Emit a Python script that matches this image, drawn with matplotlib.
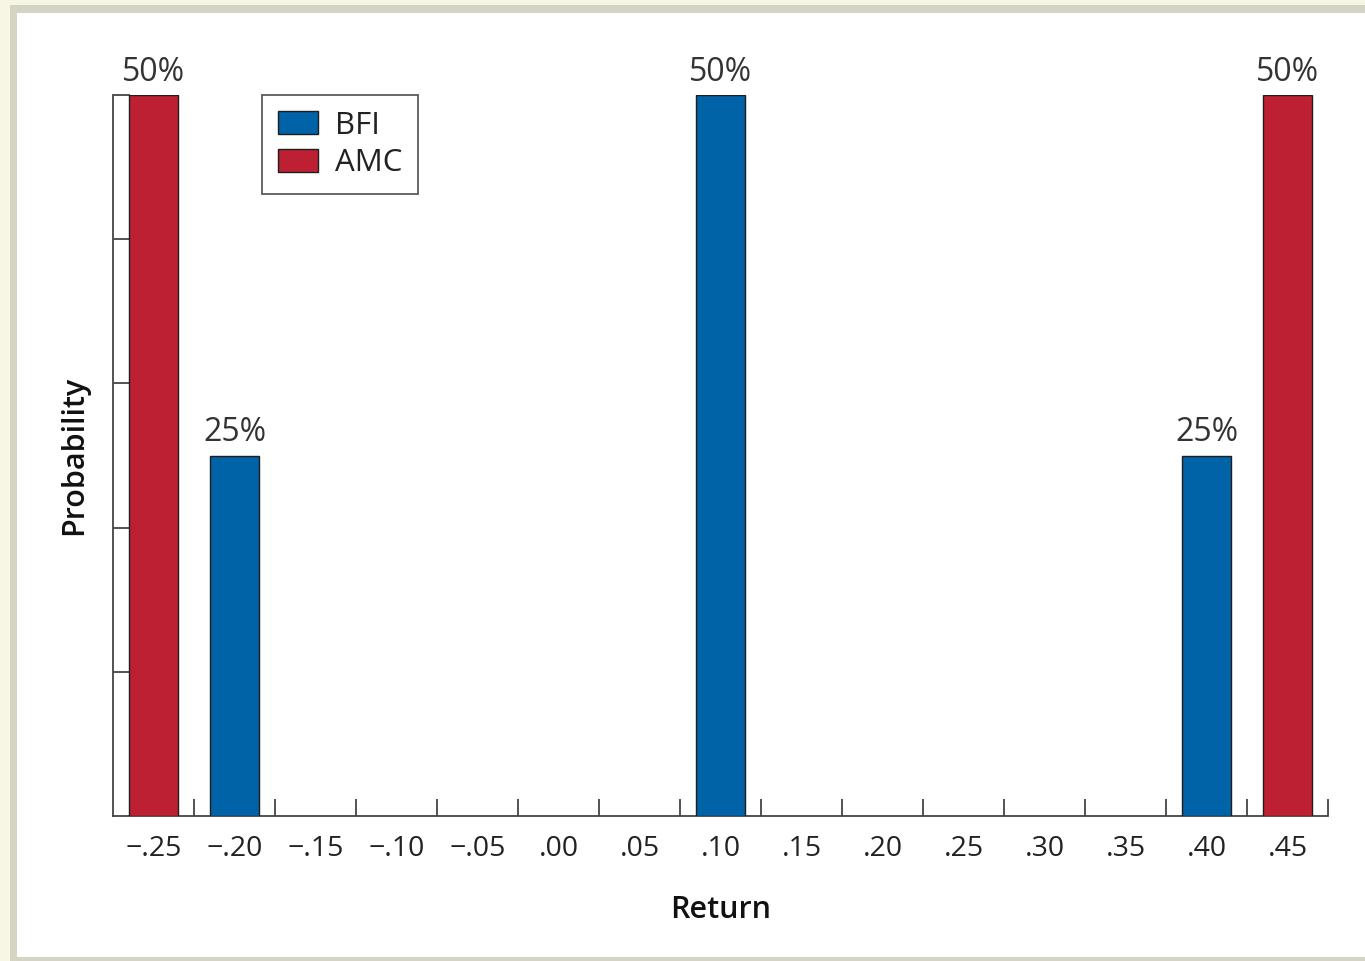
import matplotlib.pyplot as plt
from matplotlib.patches import Rectangle
from matplotlib.ticker import FixedLocator, FuncFormatter

plt.rcParams['font.family'] = ['Open Sans', 'DejaVu Sans']

# Probability distributions of returns
returns = [-0.25, -0.20, -0.15, -0.10, -0.05, 0.00, 0.05, 0.10,
           0.15, 0.20, 0.25, 0.30, 0.35, 0.40, 0.45]
bfi_returns = [-0.20, 0.10, 0.40]
bfi_probs = [0.25, 0.50, 0.25]
amc_returns = [-0.25, 0.45]
amc_probs = [0.50, 0.50]

BLUE = '#0063a8'
RED = '#be2033'
EDGE = '#1e1e1e'
AXIS = '#444444'

fig = plt.figure(figsize=(13.65, 9.61), dpi=100)
fig.patch.set_facecolor('#f7f5e4')

# grey frame and white panel behind the chart
W, H = 1365, 961
fig.patches.append(Rectangle((10 / W, 0), 1 - 10 / W, 1 - 5 / H,
                             transform=fig.transFigure, facecolor='#d5d3c3',
                             edgecolor='none', zorder=-2))
fig.patches.append(Rectangle((17 / W, 4 / H), 1 - 17 / W, 1 - 17 / H,
                             transform=fig.transFigure, facecolor='white',
                             edgecolor='none', zorder=-1))

ax = fig.add_axes([113 / W, 1 - 816 / H, (1328 - 113) / W, (816 - 95) / H])
ax.set_facecolor('none')

bw = 0.03
ax.bar(bfi_returns, bfi_probs, width=bw, color=BLUE, edgecolor=EDGE,
       linewidth=1.0, label='BFI', zorder=3)
ax.bar(amc_returns, amc_probs, width=bw, color=RED, edgecolor=EDGE,
       linewidth=1.0, label='AMC', zorder=3)

for x, p in list(zip(bfi_returns, bfi_probs)) + list(zip(amc_returns, amc_probs)):
    ax.text(x, p + 0.0098, f'{p * 100:.0f}%', ha='center', va='baseline',
            fontsize=23, color='#333333', clip_on=False)

ax.set_xlim(-0.275, 0.475)
ax.set_ylim(0, 0.5)

for s in ['top', 'right']:
    ax.spines[s].set_visible(False)
for s in ['left', 'bottom']:
    ax.spines[s].set_color(AXIS)
    ax.spines[s].set_linewidth(1.3)

# labelled centres without marks, inward marks between categories
ax.xaxis.set_major_locator(FixedLocator(returns))
ax.xaxis.set_minor_locator(FixedLocator([r + 0.025 for r in returns]))


def fmt(v, pos):
    s = f'{abs(v):.2f}'.lstrip('0')
    return ('\u2212' + s) if v < -1e-9 else s


ax.xaxis.set_major_formatter(FuncFormatter(fmt))
ax.tick_params(axis='x', which='major', length=0, pad=14, labelsize=20.5,
               labelcolor='#222222')
ax.tick_params(axis='x', which='minor', direction='in', length=12,
               width=1.3, color=AXIS)

ax.set_yticks([0.1, 0.2, 0.3, 0.4, 0.5])
ax.tick_params(axis='y', direction='in', length=12, width=1.3, color=AXIS,
               labelleft=False)

ax.set_xlabel('Return', fontsize=22, fontweight='semibold', labelpad=23,
              color='#111111')
ax.set_ylabel('Probability', fontsize=22, fontweight='semibold', labelpad=17,
              color='#111111')

leg = ax.legend(loc='upper left', bbox_to_anchor=(149 / 1215, 1.0),
                fontsize=22.5, frameon=True, fancybox=False, borderpad=0.5,
                handlelength=1.3, handleheight=0.75, handletextpad=0.55,
                labelspacing=0.25, borderaxespad=0)
leg.get_frame().set_edgecolor('#333333')
leg.get_frame().set_linewidth(1.3)
for t in leg.get_texts():
    t.set_color('#222222')

fig.savefig('out.png', dpi=100, facecolor=fig.get_facecolor())
